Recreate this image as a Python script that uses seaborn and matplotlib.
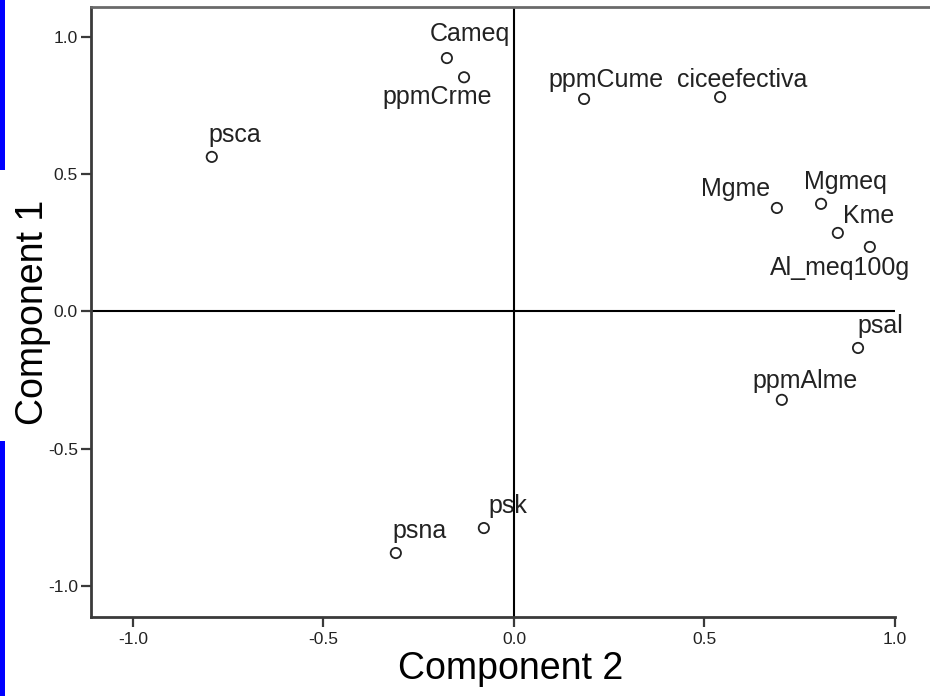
import matplotlib
matplotlib.use("Agg")
import matplotlib.pyplot as plt
from matplotlib.patches import Rectangle
from matplotlib.lines import Line2D
import seaborn as sns
import pandas as pd

# ---- data ----
variables = ["Cameq", "ppmCrme", "ppmCume", "ciceefectiva", "psca", "Mgme",
             "Mgmeq", "Kme", "Al_meq100g", "psal", "ppmAlme", "psk", "psna"]
component2 = [-0.176, -0.131, 0.184, 0.541, -0.793, 0.690,
              0.806, 0.850, 0.934, 0.903, 0.703, -0.079, -0.310]
component1 = [0.923, 0.853, 0.774, 0.781, 0.563, 0.377,
              0.392, 0.286, 0.235, -0.133, -0.322, -0.789, -0.880]
tick_values = [-1.0, -0.5, 0.0, 0.5, 1.0]
tick_labels = ["-1.0", "-0.5", "0.0", "0.5", "1.0"]

# label offsets (pixels) relative to each point: layout only
label_offsets = {
    "Cameq": (23, 17), "ppmCrme": (-27, -27), "ppmCume": (22, 12),
    "ciceefectiva": (22, 10), "psca": (23, 15), "Mgme": (-41, 12),
    "Mgmeq": (24, 15), "Kme": (31, 10), "Al_meq100g": (-30, -28),
    "psal": (22, 15), "ppmAlme": (23, 12), "psk": (24, 15), "psna": (24, 15),
}

df = pd.DataFrame({"var": variables, "c2": component2, "c1": component1})

sns.set_style("white")
plt.rcParams["font.family"] = ["Liberation Sans", "DejaVu Sans"]

fig = plt.figure(figsize=(9.3, 6.96), dpi=100)
ax = fig.add_axes([91 / 930, 1 - 617 / 696, (895 - 91) / 930, (617 - 7) / 696])

ax.axhline(0, color="black", lw=1.5, zorder=1)
ax.axvline(0, color="black", lw=1.5, zorder=1)

sns.scatterplot(data=df, x="c2", y="c1", ax=ax, marker="o", s=55,
                facecolor="none", edgecolor="#222222", linewidth=1.3, zorder=3)

for name, x, y in zip(variables, component2, component1):
    dx, dy = label_offsets[name]
    ax.annotate(name, (x, y), xytext=(dx, dy), textcoords="offset pixels",
                ha="center", va="baseline", fontsize=18, color="#222222")

ax.set_xlim(-1.11, 1.0)
ax.set_ylim(-1.113, 1.109)
ax.set_xticks(tick_values)
ax.set_xticklabels(tick_labels)
ax.set_yticks(tick_values)
ax.set_yticklabels(tick_labels)

for side in ["top", "right"]:
    ax.spines[side].set_visible(False)
for side in ["left", "bottom"]:
    ax.spines[side].set_color("#3a3a3a")
    ax.spines[side].set_linewidth(2.0)

ax.tick_params(axis="both", direction="out", color="#3a3a3a", width=1.6,
               labelsize=12.5, labelcolor="#222222", bottom=True, left=True)
ax.tick_params(axis="x", length=7, pad=4)
ax.tick_params(axis="y", length=7.5, pad=2)

ax.set_xlabel("Component 2", fontsize=27, color="black")
ax.set_ylabel("Component 1", fontsize=27, color="black")
ax.xaxis.set_label_coords(0.522, -0.055)
ax.yaxis.set_label_coords(-0.05, 0.5)

# top border line running across to the right edge
fig.add_artist(Line2D([91 / 930, 1.0], [1 - 7 / 696, 1 - 7 / 696],
                      transform=fig.transFigure, color="#6a6a6a", lw=2.0))

# blue bars on the left edge
fig.add_artist(Rectangle((0, 1 - 170 / 696), 5 / 930, 170 / 696,
                         transform=fig.transFigure, color="#0000ff", lw=0))
fig.add_artist(Rectangle((0, 0), 5 / 930, 255 / 696,
                         transform=fig.transFigure, color="#0000ff", lw=0))

fig.savefig("out.png", dpi=100)
